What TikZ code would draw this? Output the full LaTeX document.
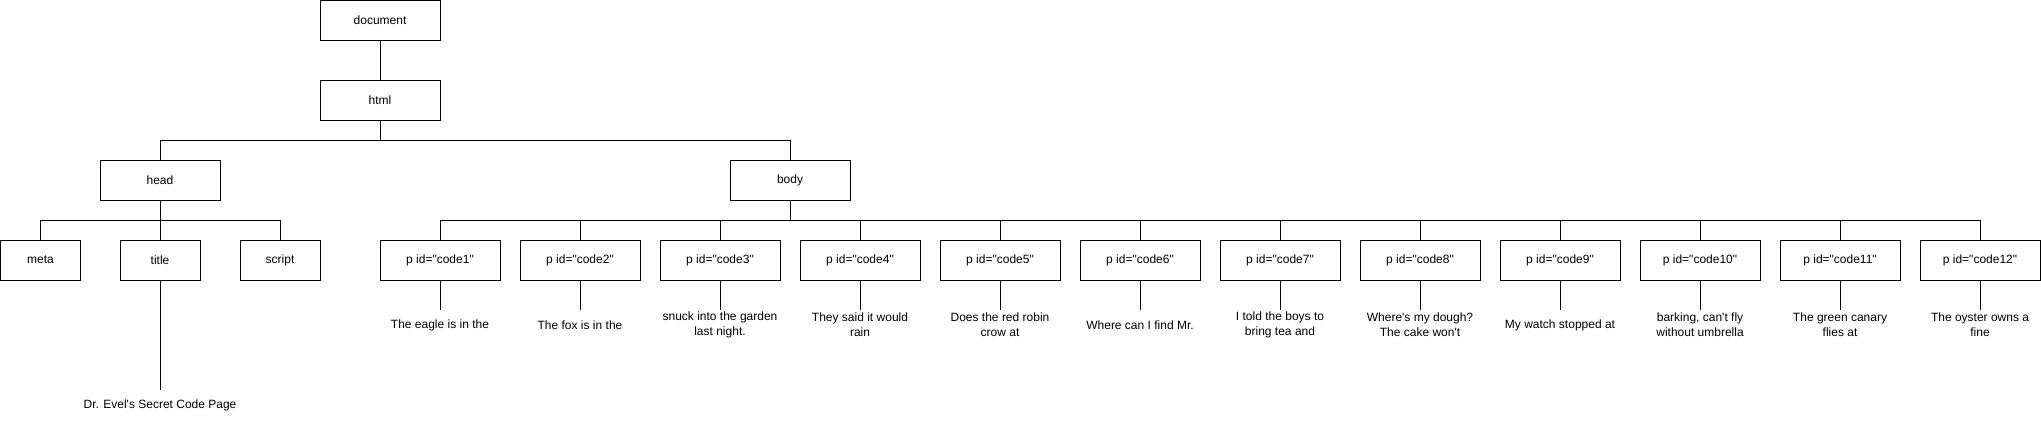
\documentclass[tikz,border=0pt]{standalone}
\usepackage{fontspec}
\newfontfamily\arialf{Liberation Sans}
\tikzset{
  box/.style={draw, line width=1pt, minimum width=120pt, minimum height=40pt, inner sep=0pt, outer sep=0pt, font=\arialf\fontsize{12}{14.5}\selectfont},
  smallbox/.style={box, minimum width=80pt},
  leaf/.style={align=center, inner sep=0pt, font=\arialf\fontsize{12}{15}\selectfont},
  conn/.style={line width=1pt}
}
\begin{document}
\begin{tikzpicture}[x=1pt,y=-1pt]
\useasboundingbox (0,0) rectangle (2041,421);
\node[box] (document) at (380,20) {document};
\node[box] (html) at (380,100) {html};
\node[box] (head) at (160,180) {head};
\node[box] (body) at (790,180) {body};
\node[smallbox] (meta) at (40.5,260) {meta};
\node[smallbox] (title) at (160,260) {title};
\node[smallbox] (script) at (280,260) {script};
\foreach \i in {1,...,12}{
  \node[box] (p\i) at ({440+140*(\i-1)},260) {p id="code\i"};
  \coordinate (e\i) at ({440+140*(\i-1)},310);
}
\coordinate (et) at (160,390);
\node[leaf] (tt) at (160,405) {Dr. Evel's Secret Code Page};
\node[leaf] (t1) at (p1|-0,325) {The eagle is in the};
\node[leaf] (t2) at (p2|-0,325) {The fox is in the};
\node[leaf] (t3) at (p3|-0,325) {snuck into the garden\\last night.};
\node[leaf] (t4) at (p4|-0,325) {They said it would\\rain};
\node[leaf] (t5) at (p5|-0,325) {Does the red robin\\crow at};
\node[leaf] (t6) at (p6|-0,325) {Where can I find Mr.};
\node[leaf] (t7) at (p7|-0,325) {I told the boys to\\bring tea and};
\node[leaf] (t8) at (p8|-0,325) {Where's my dough?\\The cake won't};
\node[leaf] (t9) at (p9|-0,325) {My watch stopped at};
\node[leaf] (t10) at (p10|-0,325) {barking, can't fly\\without umbrella};
\node[leaf] (t11) at (p11|-0,325) {The green canary\\flies at};
\node[leaf] (t12) at (p12|-0,325) {The oyster owns a\\fine};
% connectors
\draw[conn] (document.south) -- (html.north);
\draw[conn] (html.south) -- ++(0,20) -| (head.north);
\draw[conn] (html.south) -- ++(0,20) -| (body.north);
\draw[conn] (head.south) -- (title.north);
\draw[conn] (head.south) -- ++(0,20) -| (meta.north);
\draw[conn] (head.south) -- ++(0,20) -| (script.north);
\foreach \i in {1,...,12}{
  \draw[conn] (body.south) -- ++(0,20) -| (p\i.north);
  \draw[conn] (p\i.south) -- (e\i);
}
\draw[conn] (title.south) -- (et);
\end{tikzpicture}
\end{document}
